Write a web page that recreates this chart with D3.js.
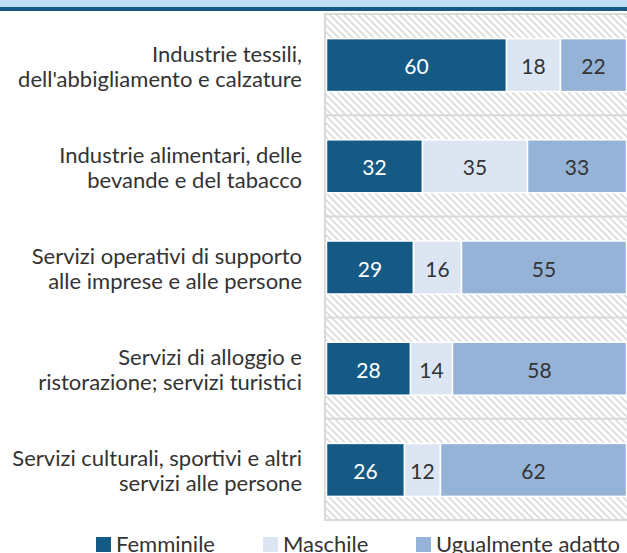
<!DOCTYPE html>
<html><head><meta charset="utf-8">
<script src="https://cdn.jsdelivr.net/npm/d3@7"></script>
<style>body{margin:0;background:#fff}svg{display:block}</style>
</head><body>
<script>
const categories = [
  "Industrie tessili,|dell'abbigliamento e calzature",
  "Industrie alimentari, delle|bevande e del tabacco",
  "Servizi operativi di supporto|alle imprese e alle persone",
  "Servizi di alloggio e|ristorazione; servizi turistici",
  "Servizi culturali, sportivi e altri|servizi alle persone"
];
const seriesNames = ["Femminile", "Maschile", "Ugualmente adatto"];
const femminile = [60, 32, 29, 28, 26];
const maschile = [18, 35, 16, 14, 12];
const ugualmente = [22, 33, 55, 58, 62];
const colors = ["#155a85", "#dce6f2", "#95b3d7"];
const textColors = ["#ffffff", "#333333", "#333333"];

const W = 627, H = 553;
const svg = d3.select("body").append("svg").attr("width", W).attr("height", H);
const font = "Lato, 'Open Sans', sans-serif";

svg.append("rect").attr("x",0).attr("y",0).attr("width",W).attr("height",7).attr("fill","#c0dff2");
svg.append("rect").attr("x",0).attr("y",7).attr("width",W).attr("height",4).attr("fill","#155a85");

const defs = svg.append("defs");
const pat = defs.append("pattern").attr("id","hatch").attr("patternUnits","userSpaceOnUse")
  .attr("width",7).attr("height",7);
pat.append("path").attr("d","M-1,-1 L8,8 M-8,-1 L1,8 M6,-1 L15,8").attr("stroke","#dadada").attr("stroke-width",1.6);

const x = d3.scaleLinear().domain([0,100]).range([326.5, 626.5]);
const y = d3.scaleBand().domain(categories).range([14, 520]).padding(0);

svg.append("rect").attr("x",325).attr("y",14).attr("width",W-325+5).attr("height",506)
  .attr("fill","url(#hatch)");
svg.selectAll("line.sep").data(categories.slice(1)).join("line")
  .attr("x1",325).attr("x2",W).attr("y1",d=>y(d)).attr("y2",d=>y(d))
  .attr("stroke","#d9d9d9").attr("stroke-width",2);
svg.append("rect").attr("x",325).attr("y",14).attr("width",W-325+5).attr("height",506)
  .attr("fill","none").attr("stroke","#d9d9d9").attr("stroke-width",2);

const stackData = categories.map((c,i)=>({cat:c, Femminile:femminile[i], Maschile:maschile[i], "Ugualmente adatto":ugualmente[i]}));
const stack = d3.stack().keys(seriesNames)(stackData);
const barH = 53;

stack.forEach((s,si)=>{
  const g = svg.append("g");
  g.selectAll("rect").data(s).join("rect")
    .attr("x",d=>x(d[0])).attr("width",d=>x(d[1])-x(d[0]))
    .attr("y",d=>y(d.data.cat)+y.bandwidth()/2-barH/2+0.5).attr("height",barH)
    .attr("fill",colors[si]).attr("stroke","#fff").attr("stroke-width",1.5);
  g.selectAll("text").data(s).join("text")
    .attr("x",d=>(x(d[0])+x(d[1]))/2).attr("y",d=>y(d.data.cat)+y.bandwidth()/2+1)
    .attr("text-anchor","middle").attr("dominant-baseline","central")
    .attr("font-family",font).attr("font-size",21).attr("fill",textColors[si])
    .text(d=>d[1]-d[0]);
});

categories.forEach(c=>{
  const lines = c.split("|");
  const cy = y(c)+y.bandwidth()/2+1;
  const t = svg.append("text").attr("text-anchor","end").attr("font-family",font)
    .attr("font-size",22).attr("fill","#333");
  lines.forEach((l,i)=>{
    t.append("tspan").attr("x",302).attr("y",cy+(i-(lines.length-1)/2)*25).attr("dominant-baseline","central").text(l);
  });
});

const legX = [96, 263, 416];
seriesNames.forEach((n,i)=>{
  svg.append("rect").attr("x",legX[i]).attr("y",537).attr("width",15).attr("height",15).attr("fill",colors[i]);
  svg.append("text").attr("x",legX[i]+20).attr("y",552)
    .attr("font-family",font).attr("font-size",22).attr("fill","#333").text(n);
});
</script>
</body></html>
